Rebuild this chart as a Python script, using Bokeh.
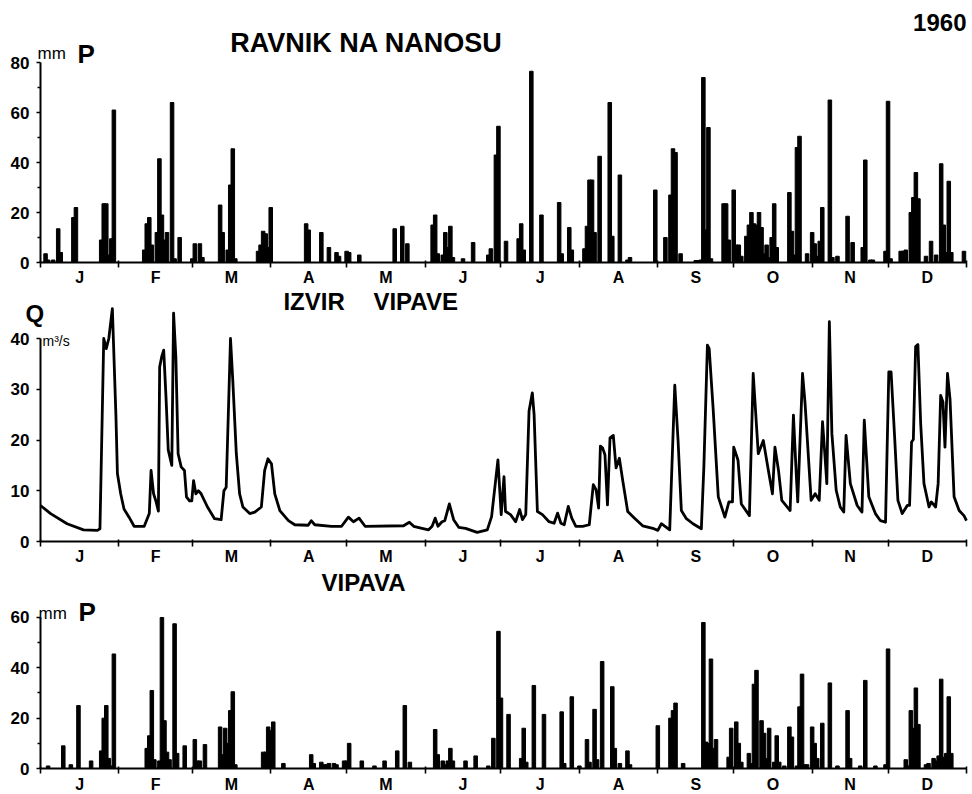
from bokeh.plotting import figure
from bokeh.layouts import column
from bokeh.models import FixedTicker, Label, Range1d
from bokeh.embed import file_html
from bokeh.resources import INLINE

# ---------------- data (day index 0 = 1 Jan 1960) ----------------
month_letters = ["J", "F", "M", "A", "M", "J", "J", "A", "S", "O", "N", "D"]
month_start = [0, 31, 60, 91, 121, 152, 182, 213, 244, 274, 305, 335, 366]

# Ravnik na Nanosu, daily precipitation (mm), only days with rain
ravnik_day = [2, 3, 5, 7, 8, 13, 14, 24, 25, 26, 27, 28, 29,
              41, 42, 43, 44, 46, 47, 48, 49, 50, 52, 53, 55,
              60, 61, 63, 64, 71, 72, 74, 75, 76, 77,
              86, 87, 88, 89, 90, 91,
              105, 106, 111, 114, 117, 118, 121, 122, 126,
              140, 143, 145, 155, 156, 157, 159, 160, 161, 162, 163,
              167, 171, 177, 178, 180, 181, 184, 189, 190, 191, 194, 198,
              205, 206, 209, 210, 215, 216, 217, 218, 219, 221, 225, 226, 229, 232, 233,
              243, 247, 249, 250, 251, 253, 259, 260, 261, 262, 263, 264, 265,
              270, 271, 272, 274, 275, 276, 277, 279, 280, 281, 282, 283, 284, 285, 286, 287, 288, 289, 290, 291,
              296, 297, 298, 299, 300, 303, 305, 306, 307, 308, 309, 312, 313, 315, 319, 321, 325, 326, 328, 329,
              334, 335, 336,
              340, 341, 342, 344, 345, 346, 347, 350, 352, 354, 356, 357, 358, 359, 360, 365]
ravnik_mm = [3.5, 1, 1, 13.5, 4, 18, 22, 9, 23.5, 23.5, 3, 9.5, 61,
             5, 15.5, 18, 7, 12, 41.5, 19, 9, 12, 64, 1.5, 10,
             1.5, 7.5, 7.5, 2, 23, 12, 5, 31, 45.5, 1.5,
             4.5, 7, 12.5, 11.5, 6, 22,
             15.5, 13, 12, 6, 4, 2.5, 4.5, 4, 3,
             13.5, 14.5, 7.5, 15, 19, 3.5, 3, 12, 6, 14.5, 2,
             1.5, 8, 3, 5.5, 43, 54.5, 8.5, 9.5, 15.5, 5, 76.5, 19,
             24, 3.5, 14, 5, 5.5, 14.5, 33, 33, 12, 42.5, 64, 10.5, 35, 1, 2,
             29, 10, 27, 45.5, 44, 3.5, 0.8, 0.8, 1, 74, 13, 54, 1.5,
             23.5, 23.5, 9, 29, 7, 7, 2.5, 10.5, 15, 20, 15.5, 15, 20, 14, 3.5, 7, 2, 10, 23.5, 6,
             28, 12.5, 3, 46, 50.5, 3.5, 12, 7.5, 2.5, 8.5, 22, 65, 2, 2.5, 18.5, 8, 6, 41, 1, 1,
             4.5, 64.5, 1.5,
             4.5, 4.5, 5, 20, 26, 36, 25.5, 2.5, 8.5, 3, 39.5, 15, 4, 32.5, 4, 4.5]

# Izvir Vipave, discharge Q (m3/s)
izvir_day = [0, 4, 10.5, 17, 22.5, 23.5, 25, 26, 27, 28.4, 29.8, 30.4, 31.7, 33, 35, 37, 41,
             43, 43.7, 44.7, 45.6, 46.6, 47.1, 47.9, 48.7, 49.6, 50.5, 51.9, 52.6, 53.5, 54.4,
             55.6, 56.9, 57.7, 58.9, 59.8, 60.5, 61.4, 62.4, 63.5, 66, 68.8, 71.4, 72.5, 73.4,
             75.1, 76, 77.4, 78.7, 80, 82.7, 84.7, 87.3, 88.6, 89.9, 91.3, 92.6, 94.6, 98,
             100.5, 105.8, 107, 108.4, 115, 119, 121.7, 123.7, 125.9, 128.3, 143.5, 145.8,
             147.5, 150.8, 153.4, 154.8, 156, 157.1, 158.7, 159.8, 161.6, 163.3, 165.3, 168,
             172.6, 176.6, 178.3, 180.8, 182.1, 183.2, 183.8, 185.8, 187.8, 189.4, 190.5, 191.8,
             193.1, 194.4, 195.1, 196.4, 198.4, 201, 203, 204.4, 205.7, 207, 208.6, 210, 211.6,
             214.3, 216.9, 218.5, 219.6, 220.6, 221.3, 222.2, 223.1, 224.1, 225.1, 226.4, 227.5,
             228.8, 230.2, 232.1, 234.8, 238, 242, 244, 245.4, 248.7, 250.7, 252, 253.3, 255.3,
             257.9, 261.2, 262.2, 263.6, 264.3, 265.9, 267.9, 270.5, 272.1, 273.5, 274, 275.7,
             277, 280.2, 281.7, 283.7, 285.7, 287.7, 289.3, 290.3, 291.7, 293, 296.3, 297.6,
             298.7, 299.3, 301.2, 302.2, 304.6, 306.2, 307.8, 309.1, 310.1, 310.8, 311.8, 312.8,
             314.5, 316.1, 317.5, 318.4, 320.1, 322.8, 324.7, 325.6, 327.4, 330, 332, 334, 335.3,
             336.2, 337.6, 338.9, 340.6, 342.6, 343.5, 344.3, 345, 345.9, 346.8, 347.9, 349.2,
             351.2, 352.1, 353.8, 354.8, 355.8, 356.7, 357.5, 358.5, 359.5, 361.1, 363.1, 365, 366]
izvir_q = [7.1, 5.5, 3.5, 2.3, 2.2, 2.5, 40, 38, 40, 45.9, 25, 13.4, 9.4, 6.4, 4.8, 3, 3,
           5.5, 14, 9.4, 8, 6, 34.4, 36.4, 37.7, 28.5, 18, 15, 45, 36.4, 17.3,
           14.7, 14, 8.8, 8, 8, 12, 9.4, 10, 9.4, 6.8, 4.5, 4.3, 10, 10.7,
           40, 31.8, 17.3, 9.4, 6.8, 5.5, 5.8, 6.8, 14, 16.3, 15.3, 9.4, 6.1, 4.1,
           3.3, 3.2, 4.1, 3.3, 3, 3, 4.8, 3.9, 4.6, 3, 3.1, 3.8,
           3, 2.6, 2.3, 3, 4.6, 3, 3.9, 4.1, 7.4, 4.3, 2.8, 2.6,
           1.8, 2.3, 4.9, 16.1, 5.3, 12.8, 5.9, 5.3, 3.9, 6.3, 4.3, 5.3,
           25.7, 29.3, 25, 5.9, 5.3, 3.9, 3.6, 5.6, 3.6, 3.3, 6.9, 4.6, 3,
           3, 3.3, 11.2, 10.2, 6.6, 18.8, 18.4, 17.1, 7.2, 20.4, 20.9, 14.5,
           16.4, 11.8, 5.9, 4.6, 3.1, 2.6, 2.2, 3.5, 2.3, 30.8, 19.9, 6.1, 4.5,
           3.5, 2.5, 14.7, 38.7, 38, 25.9, 8.8, 4.8, 7.8, 7.8, 18.6, 16,
           7.4, 5.1, 33.1, 17.3, 19.9, 14, 9.4, 18.6, 14, 8.1, 6.1, 24.9,
           13.4, 7.8, 33.1, 27.2, 8.1, 9.4, 8.1, 23.6, 16.6, 11.4, 43.3, 21.3,
           10.1, 6.8, 5.8, 20.9, 11.4, 7.1, 5.8, 23.9, 8.8, 5.5, 4.1, 3.8, 33.4,
           33.4, 20.6, 8.1, 5.5, 7.1, 7.1, 19.6, 20.1, 38.4, 38.8, 23.2, 11.4,
           6.8, 7.8, 6.8, 11.4, 28.8, 27.5, 18.6, 33.1, 28, 8.8, 6.1, 5.1, 4.1]

# Vipava, daily precipitation (mm), only days with rain
vipava_day = [3, 9, 12, 15, 20, 24, 25, 26, 27, 28, 29,
              42, 43, 44, 45, 47, 48, 49, 50, 51, 53, 54, 57,
              61, 62, 63, 65, 71, 72, 73, 74, 75, 76, 77,
              88, 89, 90, 91, 92, 96, 107, 108, 111, 112, 113, 114, 116, 117,
              120, 121, 122, 127, 132, 136, 141, 144, 146,
              156, 157, 159, 160, 161, 162, 163, 168, 172,
              177, 179, 181, 182, 185, 190, 191, 192, 195, 199, 206, 207, 210, 213,
              216, 217, 219, 220, 222, 226, 227, 229, 232, 233,
              244, 249, 250, 251, 254, 262, 263, 264, 265, 266, 267,
              272, 273, 275, 276, 277, 280, 281, 282, 283, 285, 286, 287, 288, 290, 291, 292, 294,
              296, 297, 299, 300, 301, 302, 303, 305, 306, 307, 309, 312, 315, 319, 320, 324, 326, 330, 334, 335,
              342, 343, 344, 345, 346, 347, 350, 351, 353, 354, 355, 356, 357, 358, 359, 360]
vipava_mm = [1, 9, 1.5, 25, 3, 7, 20, 25, 4, 1, 45.5,
             8, 13, 31, 3.5, 3, 60, 19, 6.5, 3.5, 57.5, 6, 9,
             11.5, 3, 3, 9.5, 16.5, 5.5, 16, 10, 23, 30.5, 1.5,
             6.5, 6.5, 16.5, 15, 18.5, 2, 5.5, 2, 2.5, 1.5, 1.5, 2, 2, 1.5,
             3, 3, 10, 3, 1, 3, 7, 25, 2.5,
             15.5, 5.5, 3, 1.5, 3, 8, 3, 3, 5,
             1, 12, 54.5, 28, 21.5, 4, 16, 2.5, 33, 21.5, 22.5, 2, 28.5, 1,
             11.5, 2.5, 23.5, 3.5, 42.5, 32.5, 8, 2, 7, 1.5,
             17, 20, 23, 26, 2, 58, 10.5, 10, 43.5, 8, 11.5,
             4.5, 16, 18.5, 10, 2.5, 6, 2, 33.5, 39, 19, 14, 4, 16, 2.5, 13, 2.5, 1,
             16.5, 12.5, 1, 24.5, 37.5, 1.5, 1.5, 16.5, 10, 4, 18, 34, 1, 23, 4, 1, 35, 1, 1.5, 47.5,
             3.5, 1, 23, 16, 32, 17.5, 1.5, 2, 4, 3, 5, 35.5, 4.5, 6, 28.5, 6]

# ---------------- layout helpers ----------------
FONT = "Liberation Sans"
FIG_W = 970
PX_PER_DAY = 2.53
X0_PX = 40                      # where day 0 sits
X_LO = -X0_PX / PX_PER_DAY
X_HI = (FIG_W - X0_PX) / PX_PER_DAY
mid = [(month_start[i] + month_start[i + 1]) / 2 for i in range(12)]


def base_fig(height, y_lo, y_hi, y_bound, standoff):
    p = figure(width=FIG_W, height=height,
               x_range=Range1d(X_LO, X_HI), y_range=Range1d(y_lo, y_hi),
               output_backend="svg", toolbar_location=None)
    p.min_border = 0
    p.outline_line_color = None
    p.xgrid.visible = False
    p.ygrid.visible = False
    p.background_fill_color = "white"
    p.border_fill_color = "white"

    xa = p.xaxis[0]
    xa.fixed_location = 0
    xa.bounds = (0, 366)
    xa.ticker = FixedTicker(ticks=mid, minor_ticks=month_start)
    xa.major_label_overrides = {m: l for m, l in zip(mid, month_letters)}
    xa.major_tick_in = 0
    xa.major_tick_out = 0
    xa.minor_tick_in = 2
    xa.minor_tick_out = 5
    xa.minor_tick_line_width = 1.6
    xa.minor_tick_line_color = "black"
    xa.axis_line_width = 2
    xa.axis_line_color = "black"
    xa.major_label_text_font = FONT
    xa.major_label_text_font_style = "bold"
    xa.major_label_text_font_size = "16px"
    xa.major_label_text_color = "black"
    xa.major_label_standoff = standoff

    ya = p.yaxis[0]
    ya.fixed_location = 0
    ya.bounds = (0, y_bound)
    ya.axis_line_width = 2
    ya.axis_line_color = "black"
    ya.major_tick_in = 0
    ya.major_tick_out = 4
    ya.minor_tick_in = 0
    ya.minor_tick_out = 3
    ya.major_tick_line_width = 1.6
    ya.minor_tick_line_width = 1.6
    ya.major_label_text_font = FONT
    ya.major_label_text_font_style = "bold"
    ya.major_label_text_font_size = "17px"
    ya.major_label_text_color = "black"
    ya.major_label_standoff = 7
    return p


def text(p, x, y, s, size, align="left", bold=True, baseline="alphabetic"):
    p.add_layout(Label(x=x, y=y, text=s, text_font=FONT,
                       text_font_style="bold" if bold else "normal",
                       text_font_size=size, text_align=align,
                       text_baseline=baseline, text_color="black"))


BAR_W = 1.4

# ---------------- panel 1 : Ravnik na Nanosu ----------------
# page y 0..287, value 0 at y=262, 2.5 px per mm
p1 = base_fig(287, -25 / 2.5, 262 / 2.5, 80, 1)
p1.yaxis[0].ticker = FixedTicker(ticks=[0, 20, 40, 60, 80], minor_ticks=[10, 30, 50, 70])
p1.vbar(x=ravnik_day, top=ravnik_mm, width=BAR_W, color="black")
text(p1, 128.9, 88, "RAVNIK NA NANOSU", "27px", align="center", baseline="middle")
text(p1, 366, 96, "1960", "24px", align="right", baseline="middle")
text(p1, -1.2, 83.6, "mm", "17px", bold=False)
text(p1, 14.6, 83.6, "P", "26px")

# ---------------- panel 2 : Izvir Vipave ----------------
# page y 287..566, value 0 at y=541, 5.075 px per m3/s
p2 = base_fig(279, -25 / 5.075, 254 / 5.075, 40, 1)
p2.yaxis[0].ticker = FixedTicker(ticks=[0, 10, 20, 30, 40], minor_ticks=[])
p2.line(izvir_day, izvir_q, line_width=2.8, color="black", line_join="round")
text(p2, 96.0, 47.3, "IZVIR", "24px", baseline="middle")
text(p2, 131.6, 47.3, "VIPAVE", "24px", baseline="middle")
text(p2, -5.9, 44.9, "Q", "24px")
text(p2, 0.8, 39.6, "m³/s", "14px", bold=False)

# ---------------- panel 3 : Vipava ----------------
# page y 566..793, value 0 at y=768, 2.517 px per mm
p3 = base_fig(227, -25 / 2.517, 202 / 2.517, 60, 2)
p3.yaxis[0].ticker = FixedTicker(ticks=[0, 20, 40, 60], minor_ticks=[10, 30, 50])
p3.vbar(x=vipava_day, top=vipava_mm, width=BAR_W, color="black")
text(p3, 127.7, 73.9, "VIPAVA", "24px", align="center", baseline="middle")
text(p3, -0.8, 61.6, "mm", "17px", bold=False)
text(p3, 15, 62, "P", "26px")

layout = column(p1, p2, p3, spacing=0)
open("out.html", "w").write(file_html(layout, INLINE))
